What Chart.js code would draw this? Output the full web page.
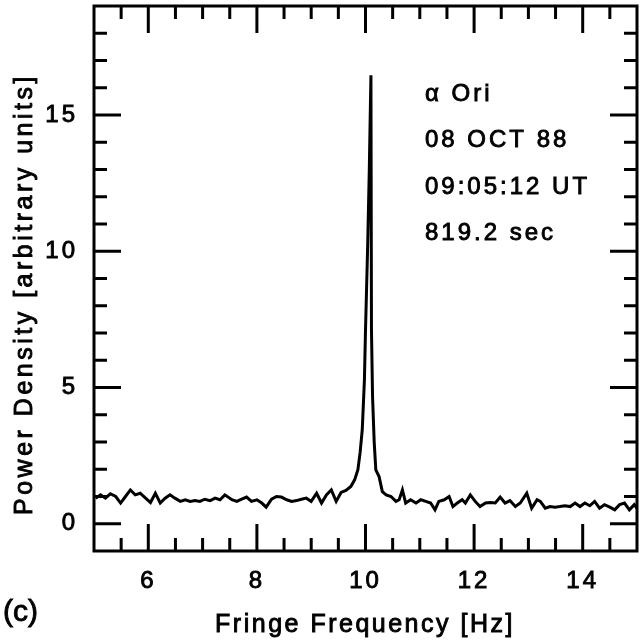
<!DOCTYPE html>
<html>
<head>
<meta charset="utf-8">
<script src="https://cdn.jsdelivr.net/npm/chart.js@4/dist/chart.umd.min.js"></script>
<style>
  html, body { margin: 0; padding: 0; background: #fff; }
</style>
</head>
<body>
<canvas id="chart" width="642" height="641"></canvas>
<script>
// fringe power spectrum
const freq = [
  5.03, 5.12, 5.21, 5.30, 5.40, 5.49, 5.58, 5.67, 5.76, 5.85, 5.95, 6.04, 6.13, 6.22, 6.31, 6.40,
  6.49, 6.59, 6.68, 6.77, 6.86, 6.95, 7.04, 7.14, 7.23, 7.32, 7.41, 7.54, 7.63, 7.72, 7.81, 7.90,
  8.00, 8.09, 8.17, 8.27, 8.36, 8.45, 8.55, 8.64, 8.73, 8.82, 8.91, 9.00, 9.10, 9.19, 9.28, 9.37,
  9.46, 9.55, 9.64, 9.73, 9.80, 9.86, 9.90, 9.94, 9.98, 10.00, 10.04, 10.07, 10.10, 10.11, 10.13,
  10.16, 10.19, 10.25, 10.31, 10.38, 10.47, 10.56, 10.62, 10.68, 10.74, 10.83, 10.93, 11.02, 11.11,
  11.20, 11.28, 11.35, 11.45, 11.54, 11.61, 11.69, 11.78, 11.84, 11.93, 12.02, 12.11, 12.21, 12.30,
  12.39, 12.48, 12.57, 12.66, 12.76, 12.85, 12.97, 13.06, 13.16, 13.22, 13.31, 13.40, 13.49, 13.58,
  13.67, 13.77, 13.86, 13.95, 14.04, 14.13, 14.22, 14.31, 14.40, 14.50, 14.59, 14.68, 14.77, 14.86,
  14.95, 15.00
];
const power = [
  0.94, 1.06, 0.94, 1.10, 1.00, 0.76, 1.00, 1.24, 1.06, 1.12, 0.94, 0.78, 1.12, 0.76, 0.94, 1.06,
  0.94, 0.82, 0.88, 0.82, 0.85, 0.82, 0.90, 0.85, 0.94, 0.88, 1.06, 0.88, 0.82, 0.90, 0.98, 0.82,
  0.88, 0.76, 0.61, 0.90, 1.00, 0.98, 0.88, 0.82, 0.85, 0.90, 0.94, 0.82, 1.12, 0.76, 1.06, 1.24,
  0.82, 1.15, 1.22, 1.37, 1.61, 1.98, 2.60, 3.44, 5.27, 7.10, 10.2, 13.0, 16.46, 7.10, 4.65,
  3.00, 1.98, 1.73, 1.18, 1.06, 1.00, 0.82, 0.88, 1.24, 0.76, 0.88, 0.76, 0.88, 0.82,
  0.76, 0.51, 0.82, 0.88, 1.00, 0.63, 0.76, 0.88, 0.76, 1.06, 0.82, 0.63, 0.76, 0.78,
  0.76, 0.98, 0.76, 0.85, 0.63, 0.76, 1.12, 0.57, 0.88, 0.82, 0.57, 0.63, 0.61, 0.63,
  0.66, 0.63, 0.76, 0.63, 0.76, 0.66, 0.82, 0.57, 0.70, 0.61, 0.51, 0.70, 0.76, 0.51,
  0.70, 0.57
];
const xTickLabels = [6, 8, 10, 12, 14];
const yTickLabels = [0, 5, 10, 15];
const infoLines = ['α Ori', '08 OCT 88', '09:05:12 UT', '819.2 sec'];

const FONT = '"Liberation Sans", Arial, sans-serif';

// text in the scan is heavier than a plain regular face, so stroke it a little
function heavyText(ctx, s, x, y) {
  ctx.fillText(s, x, y);
  ctx.strokeText(s, x, y);
}

// frame, inward ticks on all four sides, and the free text
const framePlugin = {
  id: 'frame',
  beforeDraw(chart) {
    chart.ctx.letterSpacing = '3px';
  },
  afterDraw(chart) {
    const { ctx, chartArea: a, scales: { x, y } } = chart;
    ctx.save();
    ctx.strokeStyle = '#000';
    ctx.lineWidth = 3;
    ctx.strokeRect(a.left, a.top, a.right - a.left, a.bottom - a.top);
    ctx.beginPath();
    x.ticks.forEach(t => {
      if (t.value <= x.min || t.value >= x.max) return;
      const px = x.getPixelForValue(t.value);
      const len = xTickLabels.includes(t.value) ? 27 : 13;
      ctx.moveTo(px, a.bottom); ctx.lineTo(px, a.bottom - len);
      ctx.moveTo(px, a.top); ctx.lineTo(px, a.top + len);
    });
    y.ticks.forEach(t => {
      if (t.value <= y.min || t.value >= y.max) return;
      const py = y.getPixelForValue(t.value);
      const len = yTickLabels.includes(t.value) ? 27 : 13;
      ctx.moveTo(a.left, py); ctx.lineTo(a.left + len, py);
      ctx.moveTo(a.right, py); ctx.lineTo(a.right - len, py);
    });
    ctx.stroke();

    ctx.fillStyle = '#000';
    ctx.lineWidth = 0.9;
    ctx.textAlign = 'left';
    ctx.textBaseline = 'alphabetic';
    ctx.font = '24px ' + FONT;
    ctx.letterSpacing = '3px';
    infoLines.forEach((s, i) => heavyText(ctx, s, 425, 101 + i * 46.3));

    ctx.font = '25px ' + FONT;
    ctx.letterSpacing = '2.5px';
    ctx.textAlign = 'center';
    heavyText(ctx, 'Fringe Frequency [Hz]', 365, 632);

    ctx.save();
    ctx.translate(32, 294);
    ctx.rotate(-Math.PI / 2);
    ctx.letterSpacing = '3.5px';
    heavyText(ctx, 'Power Density [arbitrary units]', 0, 0);
    ctx.restore();

    ctx.font = '30px ' + FONT;
    ctx.letterSpacing = '0px';
    ctx.textAlign = 'left';
    heavyText(ctx, '(c)', 3, 621);
    ctx.restore();
  }
};

new Chart(document.getElementById('chart'), {
  type: 'line',
  data: {
    datasets: [{
      data: freq.map((f, i) => ({ x: f, y: power[i] })),
      borderColor: '#000',
      borderWidth: 3,
      pointRadius: 0,
      tension: 0,
      fill: false
    }]
  },
  options: {
    responsive: false,
    animation: false,
    devicePixelRatio: 1,
    layout: { padding: { top: 6, right: 5, left: 0, bottom: 0 } },
    plugins: { legend: { display: false }, tooltip: { enabled: false } },
    scales: {
      x: {
        type: 'linear',
        min: 5,
        max: 15,
        afterFit: s => { s.height = 90; s.paddingLeft = 0; s.paddingRight = 0; },
        grid: { display: false },
        border: { display: false },
        ticks: {
          stepSize: 0.5,
          autoSkip: false,
          maxRotation: 0,
          padding: 8,
          color: '#000',
          textStrokeColor: '#000',
          textStrokeWidth: 0.9,
          font: { size: 24, family: FONT },
          callback: v => xTickLabels.includes(v) ? String(v) : ''
        }
      },
      y: {
        min: -1,
        max: 19,
        afterFit: s => { s.width = 94; s.paddingTop = 0; s.paddingBottom = 0; },
        grid: { display: false },
        border: { display: false },
        ticks: {
          stepSize: 1,
          autoSkip: false,
          padding: 8,
          color: '#000',
          textStrokeColor: '#000',
          textStrokeWidth: 0.9,
          font: { size: 24, family: FONT },
          callback: v => yTickLabels.includes(v) ? String(v) : ''
        }
      }
    }
  },
  plugins: [framePlugin]
});
</script>
</body>
</html>
